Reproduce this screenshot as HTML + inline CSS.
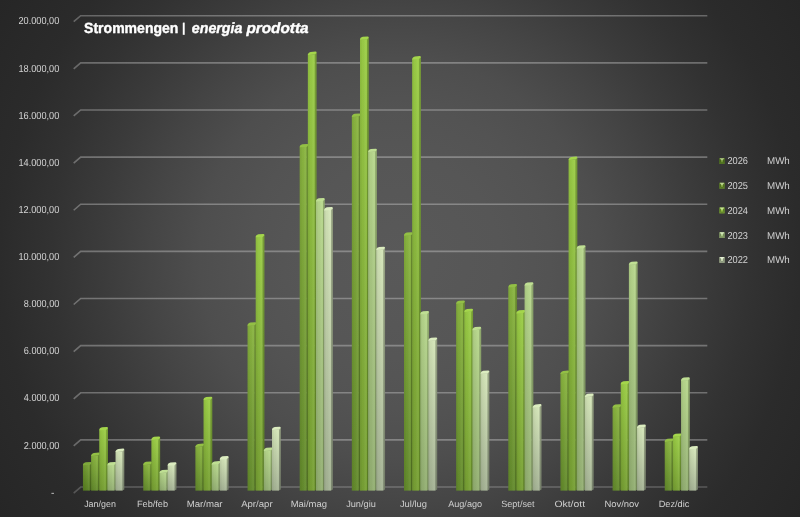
<!DOCTYPE html>
<html lang="de"><head><meta charset="utf-8"><title>Strommengen | energia prodotta</title>
<style>html,body{margin:0;padding:0;background:#2b2b2b;}body{width:800px;height:517px;overflow:hidden;font-family:"Liberation Sans",sans-serif;}svg{display:block}text{font-family:"Liberation Sans",sans-serif;text-rendering:geometricPrecision}</style>
</head><body>
<svg width="800" height="517" viewBox="0 0 800 517" role="img" aria-label="Strommengen | energia prodotta">
<defs>
<radialGradient id="bg" gradientUnits="userSpaceOnUse" cx="400" cy="258.5" r="476"><stop offset="0.000" stop-color="#595959"/><stop offset="0.210" stop-color="#565656"/><stop offset="0.315" stop-color="#535353"/><stop offset="0.420" stop-color="#4e4e4e"/><stop offset="0.525" stop-color="#454545"/><stop offset="0.630" stop-color="#3b3b3b"/><stop offset="0.735" stop-color="#323232"/><stop offset="0.840" stop-color="#2b2b2b"/><stop offset="1.000" stop-color="#262626"/></radialGradient>
<linearGradient id="f0" x1="0" y1="0" x2="0" y2="1"><stop offset="0" stop-color="#769f35"/><stop offset="1" stop-color="#587f22"/></linearGradient>
<linearGradient id="s0" x1="0" y1="0" x2="0" y2="1"><stop offset="0" stop-color="#5a7928"/><stop offset="1" stop-color="#43611a"/></linearGradient>
<linearGradient id="f1" x1="0" y1="0" x2="0" y2="1"><stop offset="0" stop-color="#8ab540"/><stop offset="1" stop-color="#648b2d"/></linearGradient>
<linearGradient id="s1" x1="0" y1="0" x2="0" y2="1"><stop offset="0" stop-color="#698a31"/><stop offset="1" stop-color="#4c6a22"/></linearGradient>
<linearGradient id="f2" x1="0" y1="0" x2="0" y2="1"><stop offset="0" stop-color="#9bcd46"/><stop offset="1" stop-color="#77a034"/></linearGradient>
<linearGradient id="s2" x1="0" y1="0" x2="0" y2="1"><stop offset="0" stop-color="#779e36"/><stop offset="1" stop-color="#597b25"/></linearGradient>
<linearGradient id="f3" x1="0" y1="0" x2="0" y2="1"><stop offset="0" stop-color="#b7d78c"/><stop offset="1" stop-color="#93af72"/></linearGradient>
<linearGradient id="s3" x1="0" y1="0" x2="0" y2="1"><stop offset="0" stop-color="#8fa86d"/><stop offset="1" stop-color="#738859"/></linearGradient>
<linearGradient id="f4" x1="0" y1="0" x2="0" y2="1"><stop offset="0" stop-color="#d4e5b8"/><stop offset="1" stop-color="#a5b395"/></linearGradient>
<linearGradient id="s4" x1="0" y1="0" x2="0" y2="1"><stop offset="0" stop-color="#97a383"/><stop offset="1" stop-color="#757f6a"/></linearGradient>
<linearGradient id="sh" x1="0" y1="0" x2="1" y2="0"><stop offset="0" stop-color="#000" stop-opacity="0.10"/><stop offset="0.35" stop-color="#000" stop-opacity="0.03"/><stop offset="0.8" stop-color="#fff" stop-opacity="0.05"/><stop offset="1" stop-color="#fff" stop-opacity="0"/></linearGradient>
<radialGradient id="gl" gradientUnits="userSpaceOnUse" cx="400" cy="258.5" r="476"><stop offset="0.000" stop-color="#909090"/><stop offset="0.420" stop-color="#888888"/><stop offset="0.630" stop-color="#7c7c7c"/><stop offset="0.840" stop-color="#6c6c6c"/><stop offset="1.000" stop-color="#646464"/></radialGradient>
<filter id="soft" x="-5%" y="-5%" width="110%" height="110%"><feGaussianBlur stdDeviation="0.5"/></filter>
<filter id="softl" x="-5%" y="-5%" width="110%" height="110%"><feGaussianBlur stdDeviation="0.35"/></filter>
<filter id="softt" x="-5%" y="-20%" width="110%" height="140%"><feGaussianBlur stdDeviation="0.3"/></filter>
</defs>
<rect width="800" height="517" fill="url(#bg)"/>
<g stroke="url(#gl)" stroke-width="1.6" stroke-opacity="0.9" fill="none" filter="url(#softl)">
<path d="M73.7 493.05 L80.7 487.05 L707.3 487.05" stroke-opacity="0.66"/>
<path d="M73.7 445.92 L80.7 439.92 L707.3 439.92"/>
<path d="M73.7 398.78 L80.7 392.78 L707.3 392.78"/>
<path d="M73.7 351.64 L80.7 345.64 L707.3 345.64"/>
<path d="M73.7 304.51 L80.7 298.51 L707.3 298.51"/>
<path d="M73.7 257.38 L80.7 251.38 L707.3 251.38"/>
<path d="M73.7 210.24 L80.7 204.24 L707.3 204.24"/>
<path d="M73.7 163.11 L80.7 157.11 L707.3 157.11"/>
<path d="M73.7 115.97 L80.7 109.97 L707.3 109.97"/>
<path d="M73.7 68.84 L80.7 62.84 L707.3 62.84"/>
<path d="M73.7 21.7 L80.7 15.7 L707.3 15.7"/>
</g>
<g filter="url(#soft)">
<path d="M89.65 464.7 L91.7 463 L91.7 489.6 L89.65 490.6 Z" fill="url(#s0)"/>
<rect x="82.95" y="464.7" width="7" height="25.9" fill="url(#f0)"/>
<rect x="82.95" y="464.7" width="7" height="25.9" fill="url(#sh)"/>
<path d="M82.95 465.3 Q82.85 462.9 85.75 462.2 L90.5 461.9 Q91.7 461.9 91.7 463.3 L89.95 464.9 Z" fill="#7ea93a"/>
<path d="M97.8 455.4 L99.85 453.7 L99.85 489.6 L97.8 490.6 Z" fill="url(#s1)"/>
<rect x="91.1" y="455.4" width="7" height="35.2" fill="url(#f1)"/>
<rect x="91.1" y="455.4" width="7" height="35.2" fill="url(#sh)"/>
<path d="M91.1 456 Q91 453.6 93.9 452.9 L98.65 452.6 Q99.85 452.6 99.85 454 L98.1 455.6 Z" fill="#93c045"/>
<path d="M105.95 429.7 L108 428 L108 489.6 L105.95 490.6 Z" fill="url(#s2)"/>
<rect x="99.25" y="429.7" width="7" height="60.9" fill="url(#f2)"/>
<rect x="99.25" y="429.7" width="7" height="60.9" fill="url(#sh)"/>
<path d="M99.25 430.3 Q99.15 427.9 102.05 427.2 L106.8 426.9 Q108 426.9 108 428.3 L106.25 429.9 Z" fill="#a4d64c"/>
<path d="M114.1 464.7 L116.15 463 L116.15 489.6 L114.1 490.6 Z" fill="url(#s3)"/>
<rect x="107.4" y="464.7" width="7" height="25.9" fill="url(#f3)"/>
<rect x="107.4" y="464.7" width="7" height="25.9" fill="url(#sh)"/>
<path d="M107.4 465.3 Q107.3 462.9 110.2 462.2 L114.95 461.9 Q116.15 461.9 116.15 463.3 L114.4 464.9 Z" fill="#bfdf93"/>
<path d="M122.25 451.4 L124.3 449.7 L124.3 489.6 L122.25 490.6 Z" fill="url(#s4)"/>
<rect x="115.55" y="451.4" width="7" height="39.2" fill="url(#f4)"/>
<rect x="115.55" y="451.4" width="7" height="39.2" fill="url(#sh)"/>
<path d="M115.55 452 Q115.45 449.6 118.35 448.9 L123.1 448.6 Q124.3 448.6 124.3 450 L122.55 451.6 Z" fill="#dbecbf"/>
<path d="M149.95 464.3 L152 462.6 L152 489.6 L149.95 490.6 Z" fill="url(#s1)"/>
<rect x="143.25" y="464.3" width="7" height="26.3" fill="url(#f1)"/>
<rect x="143.25" y="464.3" width="7" height="26.3" fill="url(#sh)"/>
<path d="M143.25 464.9 Q143.15 462.5 146.05 461.8 L150.8 461.5 Q152 461.5 152 462.9 L150.25 464.5 Z" fill="#93c045"/>
<path d="M158.1 439.3 L160.15 437.6 L160.15 489.6 L158.1 490.6 Z" fill="url(#s2)"/>
<rect x="151.4" y="439.3" width="7" height="51.3" fill="url(#f2)"/>
<rect x="151.4" y="439.3" width="7" height="51.3" fill="url(#sh)"/>
<path d="M151.4 439.9 Q151.3 437.5 154.2 436.8 L158.95 436.5 Q160.15 436.5 160.15 437.9 L158.4 439.5 Z" fill="#a4d64c"/>
<path d="M166.25 472.5 L168.3 470.8 L168.3 489.6 L166.25 490.6 Z" fill="url(#s3)"/>
<rect x="159.55" y="472.5" width="7" height="18.1" fill="url(#f3)"/>
<rect x="159.55" y="472.5" width="7" height="18.1" fill="url(#sh)"/>
<path d="M159.55 473.1 Q159.45 470.7 162.35 470 L167.1 469.7 Q168.3 469.7 168.3 471.1 L166.55 472.7 Z" fill="#bfdf93"/>
<path d="M174.4 465 L176.45 463.3 L176.45 489.6 L174.4 490.6 Z" fill="url(#s4)"/>
<rect x="167.7" y="465" width="7" height="25.6" fill="url(#f4)"/>
<rect x="167.7" y="465" width="7" height="25.6" fill="url(#sh)"/>
<path d="M167.7 465.6 Q167.6 463.2 170.5 462.5 L175.25 462.2 Q176.45 462.2 176.45 463.6 L174.7 465.2 Z" fill="#dbecbf"/>
<path d="M202.1 446.4 L204.15 444.7 L204.15 489.6 L202.1 490.6 Z" fill="url(#s1)"/>
<rect x="195.4" y="446.4" width="7" height="44.2" fill="url(#f1)"/>
<rect x="195.4" y="446.4" width="7" height="44.2" fill="url(#sh)"/>
<path d="M195.4 447 Q195.3 444.6 198.2 443.9 L202.95 443.6 Q204.15 443.6 204.15 445 L202.4 446.6 Z" fill="#93c045"/>
<path d="M210.25 399.5 L212.3 397.8 L212.3 489.6 L210.25 490.6 Z" fill="url(#s2)"/>
<rect x="203.55" y="399.5" width="7" height="91.1" fill="url(#f2)"/>
<rect x="203.55" y="399.5" width="7" height="91.1" fill="url(#sh)"/>
<path d="M203.55 400.1 Q203.45 397.7 206.35 397 L211.1 396.7 Q212.3 396.7 212.3 398.1 L210.55 399.7 Z" fill="#a4d64c"/>
<path d="M218.4 463.9 L220.45 462.2 L220.45 489.6 L218.4 490.6 Z" fill="url(#s3)"/>
<rect x="211.7" y="463.9" width="7" height="26.7" fill="url(#f3)"/>
<rect x="211.7" y="463.9" width="7" height="26.7" fill="url(#sh)"/>
<path d="M211.7 464.5 Q211.6 462.1 214.5 461.4 L219.25 461.1 Q220.45 461.1 220.45 462.5 L218.7 464.1 Z" fill="#bfdf93"/>
<path d="M226.55 458.8 L228.6 457.1 L228.6 489.6 L226.55 490.6 Z" fill="url(#s4)"/>
<rect x="219.85" y="458.8" width="7" height="31.8" fill="url(#f4)"/>
<rect x="219.85" y="458.8" width="7" height="31.8" fill="url(#sh)"/>
<path d="M219.85 459.4 Q219.75 457 222.65 456.3 L227.4 456 Q228.6 456 228.6 457.4 L226.85 459 Z" fill="#dbecbf"/>
<path d="M254.25 325.1 L256.3 323.4 L256.3 489.6 L254.25 490.6 Z" fill="url(#s1)"/>
<rect x="247.55" y="325.1" width="7" height="165.5" fill="url(#f1)"/>
<rect x="247.55" y="325.1" width="7" height="165.5" fill="url(#sh)"/>
<path d="M247.55 325.7 Q247.45 323.3 250.35 322.6 L255.1 322.3 Q256.3 322.3 256.3 323.7 L254.55 325.3 Z" fill="#93c045"/>
<path d="M262.4 236.7 L264.45 235 L264.45 489.6 L262.4 490.6 Z" fill="url(#s2)"/>
<rect x="255.7" y="236.7" width="7" height="253.9" fill="url(#f2)"/>
<rect x="255.7" y="236.7" width="7" height="253.9" fill="url(#sh)"/>
<path d="M255.7 237.3 Q255.6 234.9 258.5 234.2 L263.25 233.9 Q264.45 233.9 264.45 235.3 L262.7 236.9 Z" fill="#a4d64c"/>
<path d="M270.55 450.3 L272.6 448.6 L272.6 489.6 L270.55 490.6 Z" fill="url(#s3)"/>
<rect x="263.85" y="450.3" width="7" height="40.3" fill="url(#f3)"/>
<rect x="263.85" y="450.3" width="7" height="40.3" fill="url(#sh)"/>
<path d="M263.85 450.9 Q263.75 448.5 266.65 447.8 L271.4 447.5 Q272.6 447.5 272.6 448.9 L270.85 450.5 Z" fill="#bfdf93"/>
<path d="M278.7 429.5 L280.75 427.8 L280.75 489.6 L278.7 490.6 Z" fill="url(#s4)"/>
<rect x="272" y="429.5" width="7" height="61.1" fill="url(#f4)"/>
<rect x="272" y="429.5" width="7" height="61.1" fill="url(#sh)"/>
<path d="M272 430.1 Q271.9 427.7 274.8 427 L279.55 426.7 Q280.75 426.7 280.75 428.1 L279 429.7 Z" fill="#dbecbf"/>
<path d="M306.4 146.7 L308.45 145 L308.45 489.6 L306.4 490.6 Z" fill="url(#s1)"/>
<rect x="299.7" y="146.7" width="7" height="343.9" fill="url(#f1)"/>
<rect x="299.7" y="146.7" width="7" height="343.9" fill="url(#sh)"/>
<path d="M299.7 147.3 Q299.6 144.9 302.5 144.2 L307.25 143.9 Q308.45 143.9 308.45 145.3 L306.7 146.9 Z" fill="#93c045"/>
<path d="M314.55 54.4 L316.6 52.7 L316.6 489.6 L314.55 490.6 Z" fill="url(#s2)"/>
<rect x="307.85" y="54.4" width="7" height="436.2" fill="url(#f2)"/>
<rect x="307.85" y="54.4" width="7" height="436.2" fill="url(#sh)"/>
<path d="M307.85 55 Q307.75 52.6 310.65 51.9 L315.4 51.6 Q316.6 51.6 316.6 53 L314.85 54.6 Z" fill="#a4d64c"/>
<path d="M322.7 200.8 L324.75 199.1 L324.75 489.6 L322.7 490.6 Z" fill="url(#s3)"/>
<rect x="316" y="200.8" width="7" height="289.8" fill="url(#f3)"/>
<rect x="316" y="200.8" width="7" height="289.8" fill="url(#sh)"/>
<path d="M316 201.4 Q315.9 199 318.8 198.3 L323.55 198 Q324.75 198 324.75 199.4 L323 201 Z" fill="#bfdf93"/>
<path d="M330.85 209.8 L332.9 208.1 L332.9 489.6 L330.85 490.6 Z" fill="url(#s4)"/>
<rect x="324.15" y="209.8" width="7" height="280.8" fill="url(#f4)"/>
<rect x="324.15" y="209.8" width="7" height="280.8" fill="url(#sh)"/>
<path d="M324.15 210.4 Q324.05 208 326.95 207.3 L331.7 207 Q332.9 207 332.9 208.4 L331.15 210 Z" fill="#dbecbf"/>
<path d="M358.55 116.3 L360.6 114.6 L360.6 489.6 L358.55 490.6 Z" fill="url(#s1)"/>
<rect x="351.85" y="116.3" width="7" height="374.3" fill="url(#f1)"/>
<rect x="351.85" y="116.3" width="7" height="374.3" fill="url(#sh)"/>
<path d="M351.85 116.9 Q351.75 114.5 354.65 113.8 L359.4 113.5 Q360.6 113.5 360.6 114.9 L358.85 116.5 Z" fill="#93c045"/>
<path d="M366.7 39.2 L368.75 37.5 L368.75 489.6 L366.7 490.6 Z" fill="url(#s2)"/>
<rect x="360" y="39.2" width="7" height="451.4" fill="url(#f2)"/>
<rect x="360" y="39.2" width="7" height="451.4" fill="url(#sh)"/>
<path d="M360 39.8 Q359.9 37.4 362.8 36.7 L367.55 36.4 Q368.75 36.4 368.75 37.8 L367 39.4 Z" fill="#a4d64c"/>
<path d="M374.85 151.5 L376.9 149.8 L376.9 489.6 L374.85 490.6 Z" fill="url(#s3)"/>
<rect x="368.15" y="151.5" width="7" height="339.1" fill="url(#f3)"/>
<rect x="368.15" y="151.5" width="7" height="339.1" fill="url(#sh)"/>
<path d="M368.15 152.1 Q368.05 149.7 370.95 149 L375.7 148.7 Q376.9 148.7 376.9 150.1 L375.15 151.7 Z" fill="#bfdf93"/>
<path d="M383 249.5 L385.05 247.8 L385.05 489.6 L383 490.6 Z" fill="url(#s4)"/>
<rect x="376.3" y="249.5" width="7" height="241.1" fill="url(#f4)"/>
<rect x="376.3" y="249.5" width="7" height="241.1" fill="url(#sh)"/>
<path d="M376.3 250.1 Q376.2 247.7 379.1 247 L383.85 246.7 Q385.05 246.7 385.05 248.1 L383.3 249.7 Z" fill="#dbecbf"/>
<path d="M410.7 235.1 L412.75 233.4 L412.75 489.6 L410.7 490.6 Z" fill="url(#s1)"/>
<rect x="404" y="235.1" width="7" height="255.5" fill="url(#f1)"/>
<rect x="404" y="235.1" width="7" height="255.5" fill="url(#sh)"/>
<path d="M404 235.7 Q403.9 233.3 406.8 232.6 L411.55 232.3 Q412.75 232.3 412.75 233.7 L411 235.3 Z" fill="#93c045"/>
<path d="M418.85 58.9 L420.9 57.2 L420.9 489.6 L418.85 490.6 Z" fill="url(#s2)"/>
<rect x="412.15" y="58.9" width="7" height="431.7" fill="url(#f2)"/>
<rect x="412.15" y="58.9" width="7" height="431.7" fill="url(#sh)"/>
<path d="M412.15 59.5 Q412.05 57.1 414.95 56.4 L419.7 56.1 Q420.9 56.1 420.9 57.5 L419.15 59.1 Z" fill="#a4d64c"/>
<path d="M427 313.7 L429.05 312 L429.05 489.6 L427 490.6 Z" fill="url(#s3)"/>
<rect x="420.3" y="313.7" width="7" height="176.9" fill="url(#f3)"/>
<rect x="420.3" y="313.7" width="7" height="176.9" fill="url(#sh)"/>
<path d="M420.3 314.3 Q420.2 311.9 423.1 311.2 L427.85 310.9 Q429.05 310.9 429.05 312.3 L427.3 313.9 Z" fill="#bfdf93"/>
<path d="M435.15 340.2 L437.2 338.5 L437.2 489.6 L435.15 490.6 Z" fill="url(#s4)"/>
<rect x="428.45" y="340.2" width="7" height="150.4" fill="url(#f4)"/>
<rect x="428.45" y="340.2" width="7" height="150.4" fill="url(#sh)"/>
<path d="M428.45 340.8 Q428.35 338.4 431.25 337.7 L436 337.4 Q437.2 337.4 437.2 338.8 L435.45 340.4 Z" fill="#dbecbf"/>
<path d="M462.85 303.2 L464.9 301.5 L464.9 489.6 L462.85 490.6 Z" fill="url(#s1)"/>
<rect x="456.15" y="303.2" width="7" height="187.4" fill="url(#f1)"/>
<rect x="456.15" y="303.2" width="7" height="187.4" fill="url(#sh)"/>
<path d="M456.15 303.8 Q456.05 301.4 458.95 300.7 L463.7 300.4 Q464.9 300.4 464.9 301.8 L463.15 303.4 Z" fill="#93c045"/>
<path d="M471 311.5 L473.05 309.8 L473.05 489.6 L471 490.6 Z" fill="url(#s2)"/>
<rect x="464.3" y="311.5" width="7" height="179.1" fill="url(#f2)"/>
<rect x="464.3" y="311.5" width="7" height="179.1" fill="url(#sh)"/>
<path d="M464.3 312.1 Q464.2 309.7 467.1 309 L471.85 308.7 Q473.05 308.7 473.05 310.1 L471.3 311.7 Z" fill="#a4d64c"/>
<path d="M479.15 329.6 L481.2 327.9 L481.2 489.6 L479.15 490.6 Z" fill="url(#s3)"/>
<rect x="472.45" y="329.6" width="7" height="161" fill="url(#f3)"/>
<rect x="472.45" y="329.6" width="7" height="161" fill="url(#sh)"/>
<path d="M472.45 330.2 Q472.35 327.8 475.25 327.1 L480 326.8 Q481.2 326.8 481.2 328.2 L479.45 329.8 Z" fill="#bfdf93"/>
<path d="M487.3 373.2 L489.35 371.5 L489.35 489.6 L487.3 490.6 Z" fill="url(#s4)"/>
<rect x="480.6" y="373.2" width="7" height="117.4" fill="url(#f4)"/>
<rect x="480.6" y="373.2" width="7" height="117.4" fill="url(#sh)"/>
<path d="M480.6 373.8 Q480.5 371.4 483.4 370.7 L488.15 370.4 Q489.35 370.4 489.35 371.8 L487.6 373.4 Z" fill="#dbecbf"/>
<path d="M515 286.7 L517.05 285 L517.05 489.6 L515 490.6 Z" fill="url(#s1)"/>
<rect x="508.3" y="286.7" width="7" height="203.9" fill="url(#f1)"/>
<rect x="508.3" y="286.7" width="7" height="203.9" fill="url(#sh)"/>
<path d="M508.3 287.3 Q508.2 284.9 511.1 284.2 L515.85 283.9 Q517.05 283.9 517.05 285.3 L515.3 286.9 Z" fill="#93c045"/>
<path d="M523.15 312.8 L525.2 311.1 L525.2 489.6 L523.15 490.6 Z" fill="url(#s2)"/>
<rect x="516.45" y="312.8" width="7" height="177.8" fill="url(#f2)"/>
<rect x="516.45" y="312.8" width="7" height="177.8" fill="url(#sh)"/>
<path d="M516.45 313.4 Q516.35 311 519.25 310.3 L524 310 Q525.2 310 525.2 311.4 L523.45 313 Z" fill="#a4d64c"/>
<path d="M531.3 285 L533.35 283.3 L533.35 489.6 L531.3 490.6 Z" fill="url(#s3)"/>
<rect x="524.6" y="285" width="7" height="205.6" fill="url(#f3)"/>
<rect x="524.6" y="285" width="7" height="205.6" fill="url(#sh)"/>
<path d="M524.6 285.6 Q524.5 283.2 527.4 282.5 L532.15 282.2 Q533.35 282.2 533.35 283.6 L531.6 285.2 Z" fill="#bfdf93"/>
<path d="M539.45 406.9 L541.5 405.2 L541.5 489.6 L539.45 490.6 Z" fill="url(#s4)"/>
<rect x="532.75" y="406.9" width="7" height="83.7" fill="url(#f4)"/>
<rect x="532.75" y="406.9" width="7" height="83.7" fill="url(#sh)"/>
<path d="M532.75 407.5 Q532.65 405.1 535.55 404.4 L540.3 404.1 Q541.5 404.1 541.5 405.5 L539.75 407.1 Z" fill="#dbecbf"/>
<path d="M567.15 373.4 L569.2 371.7 L569.2 489.6 L567.15 490.6 Z" fill="url(#s1)"/>
<rect x="560.45" y="373.4" width="7" height="117.2" fill="url(#f1)"/>
<rect x="560.45" y="373.4" width="7" height="117.2" fill="url(#sh)"/>
<path d="M560.45 374 Q560.35 371.6 563.25 370.9 L568 370.6 Q569.2 370.6 569.2 372 L567.45 373.6 Z" fill="#93c045"/>
<path d="M575.3 159.4 L577.35 157.7 L577.35 489.6 L575.3 490.6 Z" fill="url(#s2)"/>
<rect x="568.6" y="159.4" width="7" height="331.2" fill="url(#f2)"/>
<rect x="568.6" y="159.4" width="7" height="331.2" fill="url(#sh)"/>
<path d="M568.6 160 Q568.5 157.6 571.4 156.9 L576.15 156.6 Q577.35 156.6 577.35 158 L575.6 159.6 Z" fill="#a4d64c"/>
<path d="M583.45 248 L585.5 246.3 L585.5 489.6 L583.45 490.6 Z" fill="url(#s3)"/>
<rect x="576.75" y="248" width="7" height="242.6" fill="url(#f3)"/>
<rect x="576.75" y="248" width="7" height="242.6" fill="url(#sh)"/>
<path d="M576.75 248.6 Q576.65 246.2 579.55 245.5 L584.3 245.2 Q585.5 245.2 585.5 246.6 L583.75 248.2 Z" fill="#bfdf93"/>
<path d="M591.6 396.3 L593.65 394.6 L593.65 489.6 L591.6 490.6 Z" fill="url(#s4)"/>
<rect x="584.9" y="396.3" width="7" height="94.3" fill="url(#f4)"/>
<rect x="584.9" y="396.3" width="7" height="94.3" fill="url(#sh)"/>
<path d="M584.9 396.9 Q584.8 394.5 587.7 393.8 L592.45 393.5 Q593.65 393.5 593.65 394.9 L591.9 396.5 Z" fill="#dbecbf"/>
<path d="M619.3 407.1 L621.35 405.4 L621.35 489.6 L619.3 490.6 Z" fill="url(#s1)"/>
<rect x="612.6" y="407.1" width="7" height="83.5" fill="url(#f1)"/>
<rect x="612.6" y="407.1" width="7" height="83.5" fill="url(#sh)"/>
<path d="M612.6 407.7 Q612.5 405.3 615.4 404.6 L620.15 404.3 Q621.35 404.3 621.35 405.7 L619.6 407.3 Z" fill="#93c045"/>
<path d="M627.45 383.7 L629.5 382 L629.5 489.6 L627.45 490.6 Z" fill="url(#s2)"/>
<rect x="620.75" y="383.7" width="7" height="106.9" fill="url(#f2)"/>
<rect x="620.75" y="383.7" width="7" height="106.9" fill="url(#sh)"/>
<path d="M620.75 384.3 Q620.65 381.9 623.55 381.2 L628.3 380.9 Q629.5 380.9 629.5 382.3 L627.75 383.9 Z" fill="#a4d64c"/>
<path d="M635.6 264.2 L637.65 262.5 L637.65 489.6 L635.6 490.6 Z" fill="url(#s3)"/>
<rect x="628.9" y="264.2" width="7" height="226.4" fill="url(#f3)"/>
<rect x="628.9" y="264.2" width="7" height="226.4" fill="url(#sh)"/>
<path d="M628.9 264.8 Q628.8 262.4 631.7 261.7 L636.45 261.4 Q637.65 261.4 637.65 262.8 L635.9 264.4 Z" fill="#bfdf93"/>
<path d="M643.75 427.3 L645.8 425.6 L645.8 489.6 L643.75 490.6 Z" fill="url(#s4)"/>
<rect x="637.05" y="427.3" width="7" height="63.3" fill="url(#f4)"/>
<rect x="637.05" y="427.3" width="7" height="63.3" fill="url(#sh)"/>
<path d="M637.05 427.9 Q636.95 425.5 639.85 424.8 L644.6 424.5 Q645.8 424.5 645.8 425.9 L644.05 427.5 Z" fill="#dbecbf"/>
<path d="M671.45 441.3 L673.5 439.6 L673.5 489.6 L671.45 490.6 Z" fill="url(#s1)"/>
<rect x="664.75" y="441.3" width="7" height="49.3" fill="url(#f1)"/>
<rect x="664.75" y="441.3" width="7" height="49.3" fill="url(#sh)"/>
<path d="M664.75 441.9 Q664.65 439.5 667.55 438.8 L672.3 438.5 Q673.5 438.5 673.5 439.9 L671.75 441.5 Z" fill="#93c045"/>
<path d="M679.6 436.2 L681.65 434.5 L681.65 489.6 L679.6 490.6 Z" fill="url(#s2)"/>
<rect x="672.9" y="436.2" width="7" height="54.4" fill="url(#f2)"/>
<rect x="672.9" y="436.2" width="7" height="54.4" fill="url(#sh)"/>
<path d="M672.9 436.8 Q672.8 434.4 675.7 433.7 L680.45 433.4 Q681.65 433.4 681.65 434.8 L679.9 436.4 Z" fill="#a4d64c"/>
<path d="M687.75 380.1 L689.8 378.4 L689.8 489.6 L687.75 490.6 Z" fill="url(#s3)"/>
<rect x="681.05" y="380.1" width="7" height="110.5" fill="url(#f3)"/>
<rect x="681.05" y="380.1" width="7" height="110.5" fill="url(#sh)"/>
<path d="M681.05 380.7 Q680.95 378.3 683.85 377.6 L688.6 377.3 Q689.8 377.3 689.8 378.7 L688.05 380.3 Z" fill="#bfdf93"/>
<path d="M695.9 448.7 L697.95 447 L697.95 489.6 L695.9 490.6 Z" fill="url(#s4)"/>
<rect x="689.2" y="448.7" width="7" height="41.9" fill="url(#f4)"/>
<rect x="689.2" y="448.7" width="7" height="41.9" fill="url(#sh)"/>
<path d="M689.2 449.3 Q689.1 446.9 692 446.2 L696.75 445.9 Q697.95 445.9 697.95 447.3 L696.2 448.9 Z" fill="#dbecbf"/>
</g>
<g font-size="10.2" fill="#d4d4d4" filter="url(#softt)">
<text x="50.9" y="495.65">-</text>
<text x="23.8" y="448.62" textLength="35.5" lengthAdjust="spacingAndGlyphs">2.000,00</text>
<text x="23.8" y="401.48" textLength="35.5" lengthAdjust="spacingAndGlyphs">4.000,00</text>
<text x="23.8" y="354.34" textLength="35.5" lengthAdjust="spacingAndGlyphs">6.000,00</text>
<text x="23.8" y="307.21" textLength="35.5" lengthAdjust="spacingAndGlyphs">8.000,00</text>
<text x="18.5" y="260.07" textLength="40.8" lengthAdjust="spacingAndGlyphs">10.000,00</text>
<text x="18.5" y="212.94" textLength="40.8" lengthAdjust="spacingAndGlyphs">12.000,00</text>
<text x="18.5" y="165.81" textLength="40.8" lengthAdjust="spacingAndGlyphs">14.000,00</text>
<text x="18.5" y="118.67" textLength="40.8" lengthAdjust="spacingAndGlyphs">16.000,00</text>
<text x="18.5" y="71.54" textLength="40.8" lengthAdjust="spacingAndGlyphs">18.000,00</text>
<text x="18.5" y="24.4" textLength="40.8" lengthAdjust="spacingAndGlyphs">20.000,00</text>
</g>
<g font-size="9.1" fill="#cecece" filter="url(#softt)">
<text x="84.15" y="507" textLength="31.7" lengthAdjust="spacingAndGlyphs">Jan/gen</text>
<text x="136.9" y="507" textLength="31.2" lengthAdjust="spacingAndGlyphs">Feb/feb</text>
<text x="186.65" y="507" textLength="35.95" lengthAdjust="spacingAndGlyphs">Mar/mar</text>
<text x="241.15" y="507" textLength="31.45" lengthAdjust="spacingAndGlyphs">Apr/apr</text>
<text x="290.65" y="507" textLength="36.45" lengthAdjust="spacingAndGlyphs">Mai/mag</text>
<text x="346.15" y="507" textLength="29.7" lengthAdjust="spacingAndGlyphs">Jun/giu</text>
<text x="399.9" y="507" textLength="27.2" lengthAdjust="spacingAndGlyphs">Jul/lug</text>
<text x="448.15" y="507" textLength="33.95" lengthAdjust="spacingAndGlyphs">Aug/ago</text>
<text x="501.15" y="507" textLength="33.45" lengthAdjust="spacingAndGlyphs">Sept/set</text>
<text x="554.4" y="507" textLength="30.7" lengthAdjust="spacingAndGlyphs">Okt/ott</text>
<text x="604.4" y="507" textLength="34.7" lengthAdjust="spacingAndGlyphs">Nov/nov</text>
<text x="658.65" y="507" textLength="30.7" lengthAdjust="spacingAndGlyphs">Dez/dic</text>
</g>
<g font-size="14.8" font-weight="bold" fill="#ffffff" stroke="#ffffff" stroke-width="0.4" stroke-linejoin="round" filter="url(#softt)">
<text x="84.1" y="33.35" textLength="94.3" lengthAdjust="spacingAndGlyphs">Strommengen</text>
<text x="182.1" y="32.3" font-size="12.6" stroke-width="0.15">|</text>
<text x="191.8" y="33.35" font-style="italic" textLength="50.6" lengthAdjust="spacingAndGlyphs">energia</text>
<text x="246.4" y="33.35" font-style="italic" textLength="62.2" lengthAdjust="spacingAndGlyphs">prodotta</text>
</g>
<g font-size="10" fill="#d2d2d2">
<g filter="url(#softl)"><rect x="719.4" y="158.15" width="5.2" height="5.7" fill="#6d9231"/>
<path d="M719.4 158.15 l1.5 1.6 v2.4 l-1.5 1.7 Z M724.6 158.15 l-1.5 1.6 v2.4 l1.5 1.7 Z" fill="#425f1a"/>
<path d="M719.4 163.85 l1.5 -1.7 h2.2 l1.5 1.7 Z" fill="#4b6c1d"/>
<path d="M719.7 158.15 h4.6 l-2.3 2.7 Z" fill="#b0c78a"/></g>
<g filter="url(#softt)"><text x="727.4" y="164.35" textLength="20.6" lengthAdjust="spacingAndGlyphs">2026</text>
<text x="767" y="164.35" textLength="22.8" lengthAdjust="spacingAndGlyphs">MWh</text></g>
<g filter="url(#softl)"><rect x="719.4" y="182.87" width="5.2" height="5.7" fill="#7fa73b"/>
<path d="M719.4 182.87 l1.5 1.6 v2.4 l-1.5 1.7 Z M724.6 182.87 l-1.5 1.6 v2.4 l1.5 1.7 Z" fill="#4b6822"/>
<path d="M719.4 188.57 l1.5 -1.7 h2.2 l1.5 1.7 Z" fill="#557626"/>
<path d="M719.7 182.87 h4.6 l-2.3 2.7 Z" fill="#bbd490"/></g>
<g filter="url(#softt)"><text x="727.4" y="189.07" textLength="20.6" lengthAdjust="spacingAndGlyphs">2025</text>
<text x="767" y="189.07" textLength="22.8" lengthAdjust="spacingAndGlyphs">MWh</text></g>
<g filter="url(#softl)"><rect x="719.4" y="207.59" width="5.2" height="5.7" fill="#8fbd40"/>
<path d="M719.4 207.59 l1.5 1.6 v2.4 l-1.5 1.7 Z M724.6 207.59 l-1.5 1.6 v2.4 l1.5 1.7 Z" fill="#597827"/>
<path d="M719.4 213.29 l1.5 -1.7 h2.2 l1.5 1.7 Z" fill="#65882c"/>
<path d="M719.7 207.59 h4.6 l-2.3 2.7 Z" fill="#c5e294"/></g>
<g filter="url(#softt)"><text x="727.4" y="213.79" textLength="20.6" lengthAdjust="spacingAndGlyphs">2024</text>
<text x="767" y="213.79" textLength="22.8" lengthAdjust="spacingAndGlyphs">MWh</text></g>
<g filter="url(#softl)"><rect x="719.4" y="232.31" width="5.2" height="5.7" fill="#a8c681"/>
<path d="M719.4 232.31 l1.5 1.6 v2.4 l-1.5 1.7 Z M724.6 232.31 l-1.5 1.6 v2.4 l1.5 1.7 Z" fill="#6e8356"/>
<path d="M719.4 238.01 l1.5 -1.7 h2.2 l1.5 1.7 Z" fill="#7d9561"/>
<path d="M719.7 232.31 h4.6 l-2.3 2.7 Z" fill="#d5e8bc"/></g>
<g filter="url(#softt)"><text x="727.4" y="238.51" textLength="20.6" lengthAdjust="spacingAndGlyphs">2023</text>
<text x="767" y="238.51" textLength="22.8" lengthAdjust="spacingAndGlyphs">MWh</text></g>
<g filter="url(#softl)"><rect x="719.4" y="257.03" width="5.2" height="5.7" fill="#c3d3a9"/>
<path d="M719.4 257.03 l1.5 1.6 v2.4 l-1.5 1.7 Z M724.6 257.03 l-1.5 1.6 v2.4 l1.5 1.7 Z" fill="#7c8670"/>
<path d="M719.4 262.73 l1.5 -1.7 h2.2 l1.5 1.7 Z" fill="#8c987f"/>
<path d="M719.7 257.03 h4.6 l-2.3 2.7 Z" fill="#e6f0d6"/></g>
<g filter="url(#softt)"><text x="727.4" y="263.23" textLength="20.6" lengthAdjust="spacingAndGlyphs">2022</text>
<text x="767" y="263.23" textLength="22.8" lengthAdjust="spacingAndGlyphs">MWh</text></g>
</g>
</svg>
</body></html>
